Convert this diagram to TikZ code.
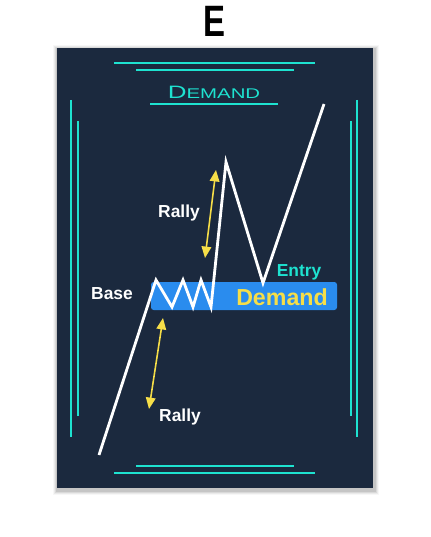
\documentclass[tikz,border=0pt]{standalone}
\usepackage{fontspec}
\setmainfont{Liberation Sans}
\usepackage{xcolor}
\usetikzlibrary{arrows.meta}

\definecolor{posterbg}{RGB}{27,41,62}
\definecolor{neon}{RGB}{30,226,208}
\definecolor{zoneblue}{RGB}{42,140,238}
\definecolor{rallyyellow}{RGB}{246,222,72}

\begin{document}
\begin{tikzpicture}[
  x=0.02cm, y=-0.02cm,
  frame/.style={draw=neon, line width=1.1pt},
  price/.style={draw=white, line width=1.6pt, line join=miter},
  rallyarrow/.style={draw=rallyyellow, line width=0.9pt, {Triangle[width=5.5pt,length=6.5pt]}-{Triangle[width=5.5pt,length=6.5pt]}},
  tag/.style={font=\bfseries\fontsize{9.9}{11}\selectfont, text=white, inner sep=0pt},
  title/.style={font=\bfseries\fontsize{25}{27}\selectfont, text=black, inner sep=0pt}
]
\useasboundingbox (0,0) rectangle (430,537);
\fill[white] (0,0) rectangle (430,537);

% Titel
\node[title, xscale=0.75] (title) at (214,21) {E};

% Schatten und Poster
\foreach \o/\a in {5/0.03,4/0.05,3/0.07,2/0.09}
  \fill[black, opacity=\a] (57-\o+1,48-\o+2) rectangle (373+\o+1,488+\o+2);
\fill[posterbg] (57,48) rectangle (373,488);

% Rahmenlinien oben und unten
\draw[frame] (114,63) -- (315,63);
\draw[frame] (136,70) -- (294,70);
\draw[frame] (136,466) -- (294,466);
\draw[frame] (114,473) -- (315,473);

% Rahmenlinien seitlich
\draw[frame] (71,100) -- (71,437);
\draw[frame] (78,121) -- (78,416);
\draw[frame] (357,100) -- (357,437);
\draw[frame] (351,121) -- (351,416);

% Ueberschrift
\node[text=neon, inner sep=0pt, xscale=1.45] (heading) at (214,92)
  {\fontsize{10.2}{12}\selectfont D\fontsize{8}{10}\selectfont EMAND};
\draw[frame] (150,104) -- (278,104);

% Demand-Zone
\fill[zoneblue, rounded corners=1.5pt] (151,282) rectangle (337,310);
\node[font=\bfseries\fontsize{13.2}{15}\selectfont, text=rallyyellow, inner sep=0pt] (demand) at (282,297) {Demand};
\node[tag, text=neon] (entry) at (299,272) {Entry};
\node[tag] (base) at (112,294) {Base};

% Kursverlauf
\draw[price] (99,455) -- (156,280) -- (172,307) -- (183,280) -- (193,307)
  -- (201,280) -- (211,307) -- (226,162) -- (263,283) -- (324,104);

% Rally-Pfeile
\coordinate (rally_top_a) at (216,170);
\coordinate (rally_top_b) at (205,258);
\coordinate (rally_low_a) at (163,318);
\coordinate (rally_low_b) at (149,409);
\draw[rallyarrow] (rally_top_a) -- (rally_top_b);
\draw[rallyarrow] (rally_low_a) -- (rally_low_b);
\node[tag] (rally_top) at (179,213) {Rally};
\node[tag] (rally_low) at (180,417) {Rally};

\end{tikzpicture}
\end{document}
